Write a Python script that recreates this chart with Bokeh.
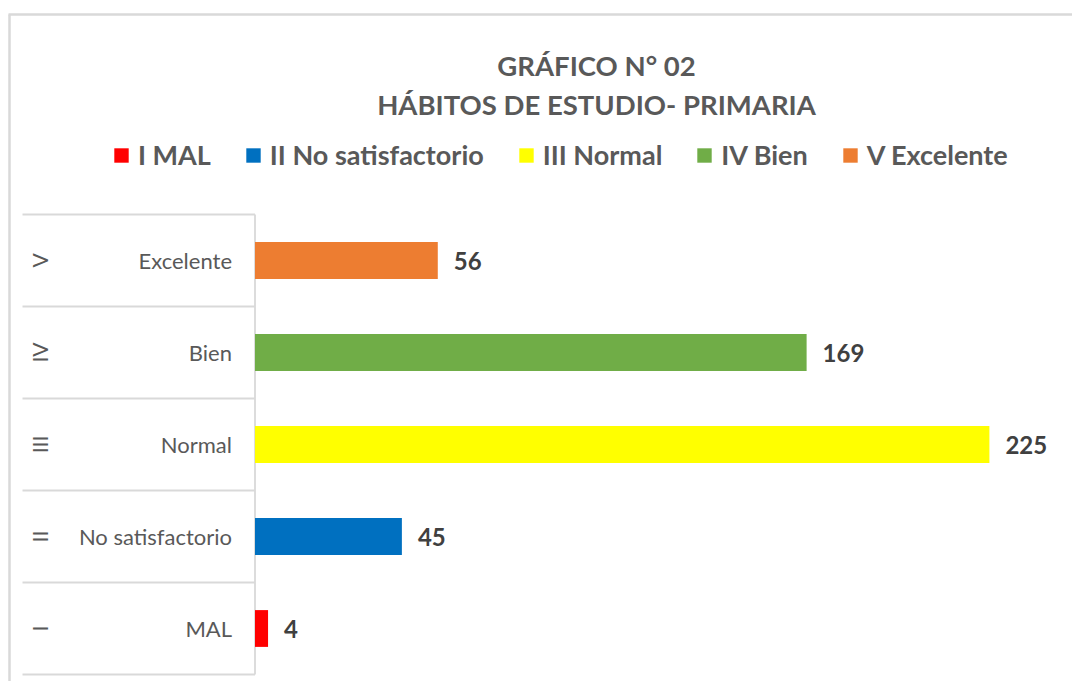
import math
from bokeh.plotting import figure
from bokeh.models import ColumnDataSource, Range1d, Label, Legend, LegendItem
from bokeh.core.properties import value
from bokeh.embed import file_html
from bokeh.resources import INLINE

# ---- data ----
categories = ["MAL", "No satisfactorio", "Normal", "Bien", "Excelente"]
levels = ["I", "II", "III", "IV", "V"]
values = [4, 45, 225, 169, 56]
colors = ["#FF0000", "#0070C0", "#FFFF00", "#70AD47", "#ED7D31"]
legend_labels = [f"{l} {c}" for l, c in zip(levels, categories)]
title_lines = ["GRÁFICO N° 02", "HÁBITOS DE ESTUDIO- PRIMARIA"]

# ---- geometry (canvas pixels) ----
W, H = 1072, 681
X0_PX = 254.5        # canvas x of value 0
PX_PER_UNIT = 3.264  # pixels per unit of value
ROW0_PX = 628        # canvas y of first row centre
ROW_PX = 92          # row pitch

def xd(cx):
    return (cx - X0_PX) / PX_PER_UNIT

def yd(cy):
    return (ROW0_PX - cy) / ROW_PX

FONT = "Lato"
GREY = "#595959"
LINE = "#D9D9D9"

positions = list(range(len(categories)))
src = ColumnDataSource(dict(
    y=positions, v=values, color=colors, cat=categories, lev=levels,
    vtxt=[str(v) for v in values],
))

p = figure(width=W, height=H, x_range=Range1d(xd(0), xd(W)), y_range=Range1d(yd(H), yd(0)),
           output_backend="svg", toolbar_location=None, min_border=0,
           x_axis_location=None, y_axis_location=None)
p.grid.visible = False
p.outline_line_color = None
p.background_fill_color = "white"
p.border_fill_color = "white"

# chart border (left and top)
p.segment(x0=[xd(9), xd(8)], y0=[yd(14), yd(14)], x1=[xd(9), xd(W)], y1=[yd(H), yd(14)],
          line_color=LINE, line_width=2.5)

# category table lines
seps = [y - 0.5 for y in positions] + [positions[-1] + 0.5]
p.segment(x0=xd(22), x1=0, y0=seps, y1=seps, line_color=LINE, line_width=1.8)
p.segment(x0=[0], x1=[0], y0=[seps[0]], y1=[seps[-1]], line_color=LINE, line_width=1.8)

bars = p.hbar(y="y", left=0, right="v", height=0.4, fill_color="color", line_color=None, source=src)

# value labels
p.text(x="v", y="y", text="vtxt", x_offset=16, text_align="left", text_baseline="middle",
       text_font=value(FONT), text_font_style="bold", text_font_size="24px",
       text_color="#404040", source=src)

# category labels
p.text(x=0, y="y", text="cat", x_offset=-23, text_align="right", text_baseline="middle",
       text_font=value(FONT), text_font_size="22px", text_color=GREY, source=src)

# group labels (rotated roman numerals)
p.text(x=0, y="y", text="lev", x_offset=-216, angle=math.pi / 2, text_align="center",
       text_baseline="middle", text_font=value(FONT), text_font_size="21px",
       text_color=GREY, source=src)

# title
for txt, cy in zip(title_lines, [65, 104]):
    p.add_layout(Label(x=xd(596), y=yd(cy), text=txt, text_align="center", text_baseline="middle",
                       text_font=FONT, text_font_style="bold", text_font_size="27.5px",
                       text_color=GREY))

legend = Legend(items=[LegendItem(label=legend_labels[i], renderers=[bars], index=i) for i in positions],
                orientation="horizontal", location=(112, 510),
                glyph_width=18, glyph_height=18, label_standoff=8, spacing=33,
                padding=0, margin=0, border_line_color=None, background_fill_alpha=0,
                label_text_font=FONT, label_text_font_style="bold", label_text_font_size="27px",
                label_text_color=GREY)
p.add_layout(legend)

open("out.html", "w").write(file_html(p, INLINE))
